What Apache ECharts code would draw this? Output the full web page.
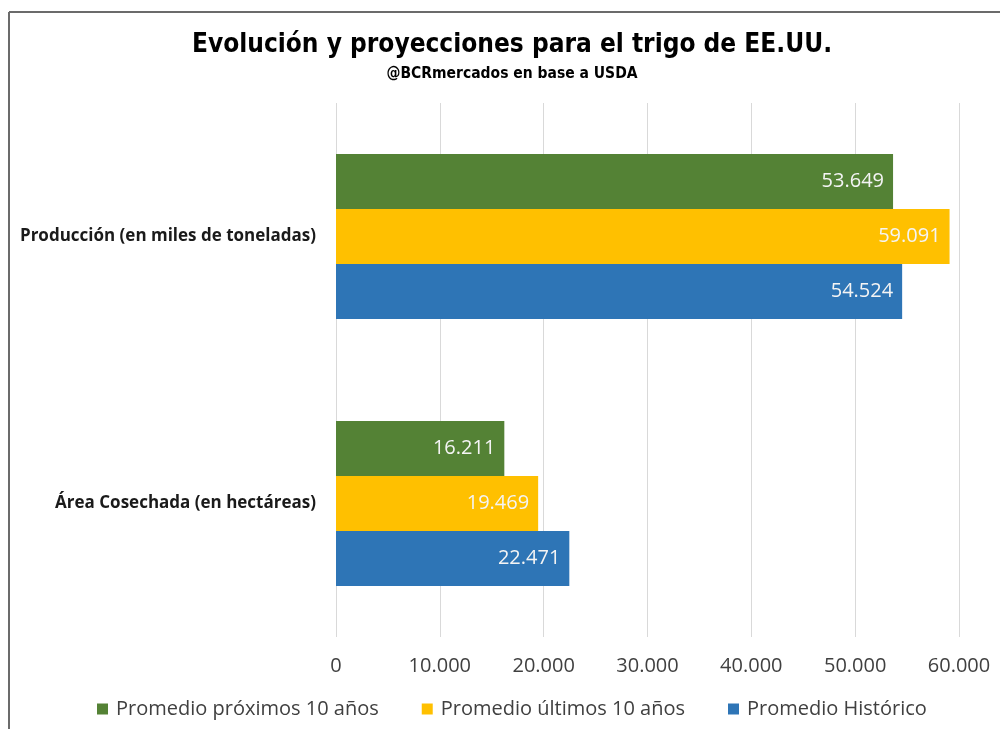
<!DOCTYPE html>
<html><head><meta charset="utf-8">
<script src="https://cdn.jsdelivr.net/npm/echarts@6/dist/echarts.min.js"></script>
<style>html,body{margin:0;padding:0;background:#fff}#c{width:1000px;height:729px}</style>
</head><body><div id="c"></div>
<script>
const categories = ['Producción (en miles de toneladas)', 'Área Cosechada (en hectáreas)'];
const seriesNames = ['Promedio próximos 10 años', 'Promedio últimos 10 años', 'Promedio Histórico'];
const proximos10 = [53649, 16211];
const ultimos10 = [59091, 19469];
const historico = [54524, 22471];
const xTicks = [0, 10000, 20000, 30000, 40000, 50000, 60000];
const colors = ['#548235', '#FFC000', '#2E75B6'];

const fmt = v => String(v).replace(/\B(?=(\d{3})+(?!\d))/g, '.');
const chart = echarts.init(document.getElementById('c'));
const values = [proximos10, ultimos10, historico];
const condensed = '"DejaVu Sans Condensed", "DejaVu Sans", sans-serif';
chart.setOption({
  animation: false,
  title: {
    text: 'Evolución y proyecciones para el trigo de EE.UU.',
    subtext: '@BCRmercados en base a USDA',
    left: 507, textAlign: 'center', top: 27, itemGap: 8,
    textStyle: {fontFamily: condensed, fontWeight: 'bold', fontSize: 26, color: '#000'},
    subtextStyle: {fontFamily: condensed, fontWeight: 'bold', fontSize: 15.5, color: '#000'}
  },
  graphic: [
    {type: 'line', shape: {x1: 9, y1: 12, x2: 1000, y2: 12}, style: {stroke: '#6b6b6b', lineWidth: 2}},
    {type: 'line', shape: {x1: 9, y1: 12, x2: 9, y2: 729}, style: {stroke: '#6b6b6b', lineWidth: 2}}
  ],
  legend: {
    data: seriesNames, top: 694, left: 92, itemWidth: 11, itemHeight: 11, itemGap: 43,
    icon: 'rect',
    textStyle: {fontFamily: 'Open Sans', fontSize: 20, color: '#404040', padding: [0, 0, 0, 3]}
  },
  grid: {left: 336, right: 41, top: 103, bottom: 92, containLabel: false},
  xAxis: {
    type: 'value', min: 0, max: 60000, interval: 10000,
    axisLine: {show: false}, axisTick: {show: false},
    splitLine: {show: true, lineStyle: {color: '#d9d9d9', width: 1}},
    axisLabel: {margin: 19, fontFamily: 'Open Sans', fontSize: 20, color: '#404040',
      formatter: v => fmt(v)}
  },
  yAxis: {
    type: 'category', data: categories, inverse: true,
    axisLine: {show: false}, axisTick: {show: false},
    axisLabel: {margin: 20, fontFamily: 'Open Sans', fontWeight: 'bold', fontSize: 17, color: '#1a1a1a'}
  },
  series: seriesNames.map((n, i) => ({
    name: n, type: 'bar', data: values[i], barWidth: 55, barGap: '0%',
    itemStyle: {color: colors[i]},
    label: {show: true, position: 'insideRight', distance: 9, color: '#f4f4f4',
      fontFamily: 'Open Sans', fontSize: 20, formatter: p => fmt(p.value)}
  }))
});
</script></body></html>
